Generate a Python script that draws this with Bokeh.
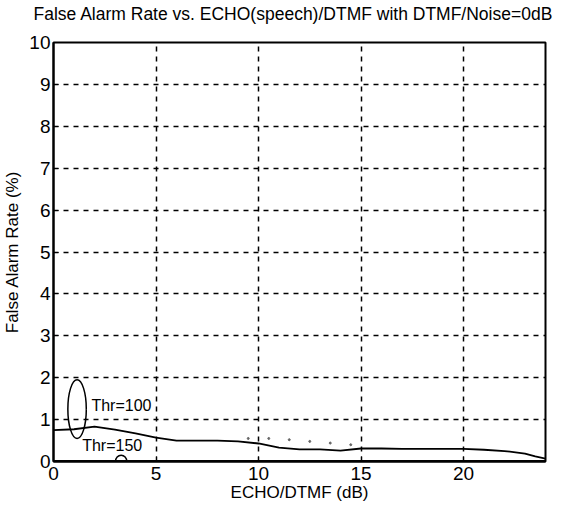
from bokeh.plotting import figure
from bokeh.models import Range1d, FixedTicker, Label, Title
from bokeh.embed import file_html
from bokeh.resources import INLINE

# ---- data ----
echo_db = [0, 1, 2, 3, 4, 5, 6, 7, 8, 9, 10, 11, 12, 13, 14, 15, 16, 17, 18, 19, 20, 21, 22, 23, 23.5, 24]
far_thr100 = [0.75, 0.77, 0.83, 0.76, 0.67, 0.57, 0.5, 0.5, 0.5, 0.48, 0.43, 0.33, 0.29, 0.29, 0.26, 0.31, 0.31, 0.3, 0.3, 0.3, 0.3, 0.28, 0.25, 0.19, 0.12, 0.07]
far_thr150 = [0.02] * len(echo_db)
dot_x = [9.5, 10.5, 11.5, 12.5, 13.5, 14.5]
dot_y = [0.55, 0.55, 0.52, 0.48, 0.44, 0.4]
x_ticks = [0, 5, 10, 15, 20]
y_ticks = [0, 1, 2, 3, 4, 5, 6, 7, 8, 9, 10]
title_text = "False Alarm Rate vs. ECHO(speech)/DTMF with DTMF/Noise=0dB"
x_label = "ECHO/DTMF (dB)"
y_label = "False Alarm Rate (%)"

FONT = "Liberation Sans"

p = figure(width=557, height=504, output_backend="svg", toolbar_location=None,
           x_range=Range1d(0, 24), y_range=Range1d(0, 10),
           min_border_left=53, min_border_right=12, min_border_top=42, min_border_bottom=43,
           title=title_text)
p.title.text_font = FONT
p.title.text_font_size = "17.5px"
p.title.text_font_style = "normal"
p.title.align = "left"
p.title.offset = -20
p.title.text_color = "black"
p.title.standoff = 2

# invisible spacer between the title and the frame
p.add_layout(Title(text=" ", text_font_size="2px", standoff=14), "above")

p.outline_line_color = "black"
p.outline_line_width = 2
p.background_fill_color = "white"
p.border_fill_color = "white"

for ax in (p.xaxis, p.yaxis):
    ax.axis_line_color = "black"
    ax.axis_line_width = 2
    ax.major_tick_in = 5
    ax.major_tick_out = 0
    ax.minor_tick_line_color = None
    ax.major_tick_line_color = "black"
    ax.major_label_text_font = FONT
    ax.major_label_text_color = "black"
    ax.axis_label_text_font = FONT
    ax.axis_label_text_font_size = "17px"
    ax.axis_label_text_font_style = "normal"
    ax.axis_label_text_color = "black"

p.yaxis.major_label_text_font_size = "19px"
p.xaxis.major_label_text_font_size = "19px"
p.xaxis.ticker = FixedTicker(ticks=x_ticks)
p.yaxis.ticker = FixedTicker(ticks=y_ticks)
p.xaxis.axis_label = x_label
p.yaxis.axis_label = y_label
p.xaxis.major_label_standoff = 5
p.yaxis.major_label_standoff = 3
p.xaxis.axis_label_standoff = 0
p.yaxis.axis_label_standoff = 4

for g in (p.xgrid, p.ygrid):
    g.grid_line_color = "black"
    g.grid_line_dash = "5 5"
    g.grid_line_width = 1.5

p.line(echo_db, far_thr100, line_color="black", line_width=1.8)
p.line(echo_db, far_thr150, line_color="black", line_width=1.5)
p.scatter(dot_x, dot_y, size=2, color="#666666")

p.ellipse(x=[1.15, 3.3], y=[1.25, 0.0], width=[0.9, 0.55], height=[1.4, 0.3],
          fill_color=None, line_color="black", line_width=1.5)

p.add_layout(Label(x=1.85, y=1.34, text="Thr=100", text_font=FONT, text_font_size="16px",
                   text_baseline="middle", text_color="black"))
p.add_layout(Label(x=1.4, y=0.38, text="Thr=150", text_font=FONT, text_font_size="16px",
                   text_baseline="middle", text_color="black"))

open("out.html", "w").write(file_html(p, INLINE))
